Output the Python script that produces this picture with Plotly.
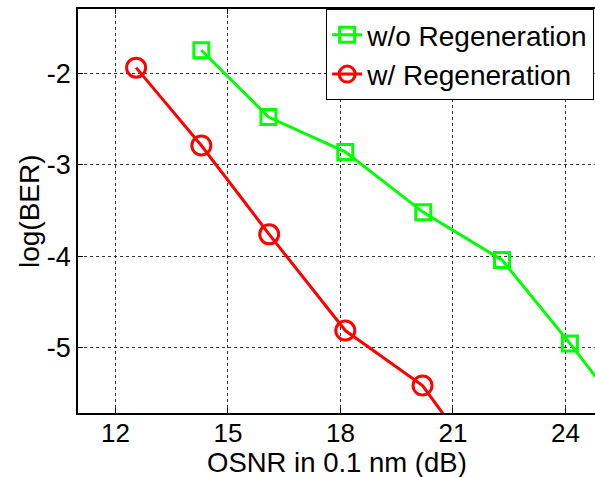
import plotly.graph_objects as go

# Data
osnr_wo = [14.29, 16.08, 18.13, 20.21, 22.31, 24.12, 26.2]
ber_wo = [-1.75, -2.48, -2.86, -3.52, -4.04, -4.95, -6.05]
osnr_w = [12.55, 14.29, 16.10, 18.13, 20.19, 22.3]
ber_w = [-1.94, -2.79, -3.76, -4.81, -5.41, -6.6]
x_ticks = [12, 15, 18, 21, 24]
y_ticks = [-2, -3, -4, -5]
x_title = "OSNR in 0.1 nm (dB)"
y_title = "log(BER)"

FONT = "Liberation Sans, Arial, sans-serif"

fig = go.Figure()
fig.add_trace(go.Scatter(
    x=osnr_wo, y=ber_wo, mode="lines+markers", name="w/o Regeneration",
    line=dict(color="#00FF00", width=3),
    marker=dict(symbol="square-open", size=15, color="#00FF00", line=dict(width=3, color="#00FF00")),
    cliponaxis=True,
))
fig.add_trace(go.Scatter(
    x=osnr_w, y=ber_w, mode="lines+markers", name="w/ Regeneration",
    line=dict(color="#FF0000", width=3),
    marker=dict(symbol="circle-open", size=19, color="#FF0000", line=dict(width=3, color="#FF0000")),
    cliponaxis=True,
))

fig.update_layout(
    width=595, height=477,
    margin=dict(l=77.5, r=0, t=9, b=63.5, autoexpand=False),
    paper_bgcolor="white", plot_bgcolor="white",
    font=dict(family=FONT, size=26, color="black"),
    showlegend=True,
    legend=dict(
        x=0.48, y=1.0, xanchor="left", yanchor="top",
        bgcolor="white", bordercolor="black", borderwidth=1,
        font=dict(family=FONT, size=28, color="black"),
        tracegroupgap=0, itemwidth=30,
    ),
    annotations=[
        dict(text=x_title, xref="paper", yref="paper", x=0.5, y=0, yshift=-49,
             xanchor="center", yanchor="middle", showarrow=False,
             font=dict(family=FONT, size=27.5, color="black")),
        dict(text=y_title, xref="paper", yref="paper", x=0, y=0.5, xshift=-49,
             xanchor="center", yanchor="middle", showarrow=False, textangle=-90,
             font=dict(family=FONT, size=28, color="black")),
    ],
)
fig.update_xaxes(
    range=[11.0, 24.79], tickvals=x_ticks, ticktext=[str(v) for v in x_ticks],
    showline=True, linecolor="black", linewidth=1.5, mirror="ticks",
    ticks="inside", ticklen=5, tickcolor="black", tickwidth=1,
    showgrid=True, gridcolor="#333333", gridwidth=1, griddash="dot",
    zeroline=False, automargin=False, ticklabelstandoff=-4,
    tickfont=dict(family=FONT, size=26),
)
fig.update_yaxes(
    range=[-5.71, -1.30], tickvals=y_ticks, ticktext=[str(v) for v in y_ticks],
    showline=True, linecolor="black", linewidth=1.5, mirror=False,
    ticks="inside", ticklen=5, tickcolor="black", tickwidth=1,
    showgrid=True, gridcolor="#333333", gridwidth=1, griddash="dot",
    zeroline=False, automargin=False,
    tickfont=dict(family=FONT, size=27),
)

fig.write_html(
    "out.html",
    config={"displayModeBar": False},
    post_script="document.body.style.margin='0';document.body.style.overflow='hidden';",
)
